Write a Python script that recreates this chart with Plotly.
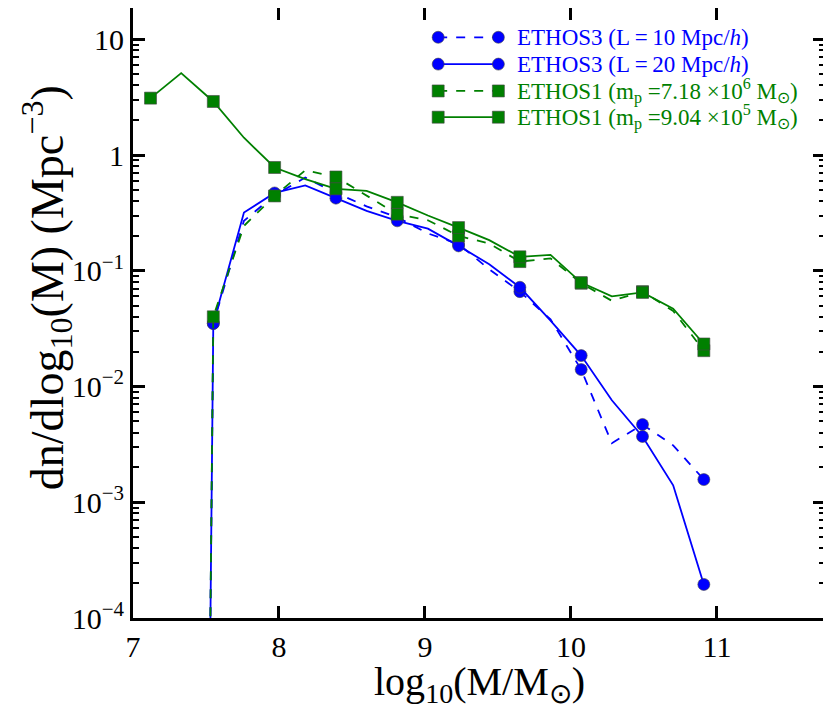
import numpy as np
import plotly.graph_objects as go

# log10(M/Msun) bins
log_m = [7.12, 7.33, 7.55, 7.76, 7.97, 8.18, 8.39, 8.60, 8.81, 9.02,
         9.23, 9.44, 9.65, 9.86, 10.07, 10.28, 10.49, 10.70, 10.91]

# dn/dlog10(M) in Mpc^-3 (0 = empty bin)
ethos3_l10 = [0, 0, 0.035, 0.27, 0.45, 0.638, 0.47, 0.36, 0.29, 0.21,
              0.17, 0.103, 0.066, 0.038, 0.014, 0.00324, 0.0047, 0.0031, 0.00157]
ethos3_l20 = [0, 0, 0.035, 0.318, 0.47, 0.547, 0.424, 0.329, 0.27, 0.231,
              0.164, 0.114, 0.072, 0.0371, 0.0185, 0.0076, 0.0037, 0.0014, 0.000195]
ethos1_lo = [0, 0, 0.040, 0.244, 0.443, 0.738, 0.646, 0.443, 0.308, 0.273,
             0.20, 0.172, 0.120, 0.128, 0.078, 0.055, 0.066, 0.045, 0.0204]
ethos1_hi = [3.1, 5.1, 2.9, 1.41, 0.78, 0.62, 0.51, 0.49, 0.39, 0.30,
             0.236, 0.184, 0.132, 0.137, 0.079, 0.060, 0.065, 0.047, 0.0233]

names = ["ETHOS3 (L\u2009=\u200910 Mpc/<i>h</i>)",
         "ETHOS3 (L\u2009=\u200920 Mpc/<i>h</i>)",
         "ETHOS1 (m<sub>p</sub> =7.18 \u00d710<sup>6</sup> M<sub>\u2299</sub>)",
         "ETHOS1 (m<sub>p</sub> =9.04 \u00d710<sup>5</sup> M<sub>\u2299</sub>)"]

y_ticks = [1e-4, 1e-3, 1e-2, 1e-1, 1, 10]
y_ticktext = ["10<sup>\u22124</sup>", "10<sup>\u22123</sup>", "10<sup>\u22122</sup>",
              "10<sup>\u22121</sup>", "1", "10"]

FONT = "Liberation Serif"
BLUE = "#0000ff"
GREEN = "#008000"

series = [
    (ethos3_l10, BLUE, "dash", "circle"),
    (ethos3_l20, BLUE, "solid", "circle"),
    (ethos1_lo, GREEN, "dash", "square"),
    (ethos1_hi, GREEN, "solid", "square"),
]

fig = go.Figure()
for (vals, col, dash, sym), name in zip(series, names):
    # empty bins -> tiny value, so the curve drops straight off the log axis like matplotlib
    y = np.clip(np.array(vals, dtype=float), 1e-30, None)
    fig.add_trace(go.Scatter(x=log_m, y=y, mode="lines", name=name,
                             line=dict(color=col, width=1.8, dash=dash),
                             showlegend=False))
    # markers only on every other bin
    fig.add_trace(go.Scatter(x=log_m[::2], y=y[::2], mode="markers",
                             marker=dict(color=col, symbol=sym, size=12,
                                         line=dict(color="#444", width=0.6)),
                             showlegend=False))

# hand-made legend (marker - line - marker)
leg_y = [0.952, 0.908, 0.864, 0.821]
x_a, x_b, x_t = 0.441, 0.528, 0.552
for (vals, col, dash, sym), name, yy in zip(series, names, leg_y):
    fig.add_shape(type="line", xref="paper", yref="paper", x0=x_a, x1=x_b, y0=yy, y1=yy,
                  line=dict(color=col, width=1.8, dash=dash))
    for xx in (x_a, x_b):
        fig.add_shape(type="circle" if sym == "circle" else "rect",
                      xref="paper", yref="paper", xsizemode="pixel", ysizemode="pixel",
                      xanchor=xx, yanchor=yy, x0=-6, x1=6, y0=-6, y1=6,
                      fillcolor=col, line=dict(color="#444", width=0.6))
    fig.add_annotation(xref="paper", yref="paper", x=x_t, y=yy, text=name,
                       showarrow=False, xanchor="left", yanchor="middle",
                       font=dict(family=FONT, size=23, color=col))

# axis titles as annotations so they sit where the reference has them
fig.add_annotation(xref="paper", yref="paper", x=0.501, y=-0.108, yanchor="middle",
                   text="log<sub>10</sub>(M/M<sub>\u2299</sub>)", showarrow=False,
                   font=dict(family=FONT, size=40, color="black"))
fig.add_annotation(xref="paper", yref="paper", x=-0.124, y=0.541, textangle=-90,
                   xanchor="center", yanchor="middle",
                   text="dn/dlog<sub>10</sub>(M) (Mpc<sup>\u22123</sup>)", showarrow=False,
                   font=dict(family=FONT, size=46, color="black"))

minor_y = [m * 10.0 ** e for e in range(-4, 2) for m in range(2, 10)]

fig.update_xaxes(range=[7, 11.74], tickmode="array", tickvals=[7, 8, 9, 10, 11],
                 ticks="inside", ticklen=12, tickwidth=2.5, tickcolor="black",
                 showline=True, linewidth=3, linecolor="black", mirror="allticks",
                 showgrid=False, zeroline=False, automargin=False,
                 tickfont=dict(family=FONT, size=30, color="black"))
fig.update_yaxes(type="log", range=[-4, 1.27], tickmode="array",
                 tickvals=y_ticks, ticktext=y_ticktext,
                 ticks="inside", ticklen=12, tickwidth=2.5, tickcolor="black",
                 minor=dict(tickmode="array", tickvals=minor_y, ticks="inside",
                            ticklen=6, tickwidth=2, tickcolor="black", showgrid=False),
                 showline=True, linewidth=3, linecolor="black", mirror="allticks",
                 showgrid=False, zeroline=False, automargin=False,
                 tickfont=dict(family=FONT, size=30, color="black"))

# the page adds an 8 px body margin, so the figure is a little smaller than the window
fig.update_layout(width=823, height=702, plot_bgcolor="white", paper_bgcolor="white",
                  margin=dict(l=125, r=6, t=0, b=92))
fig.write_html("out.html")
